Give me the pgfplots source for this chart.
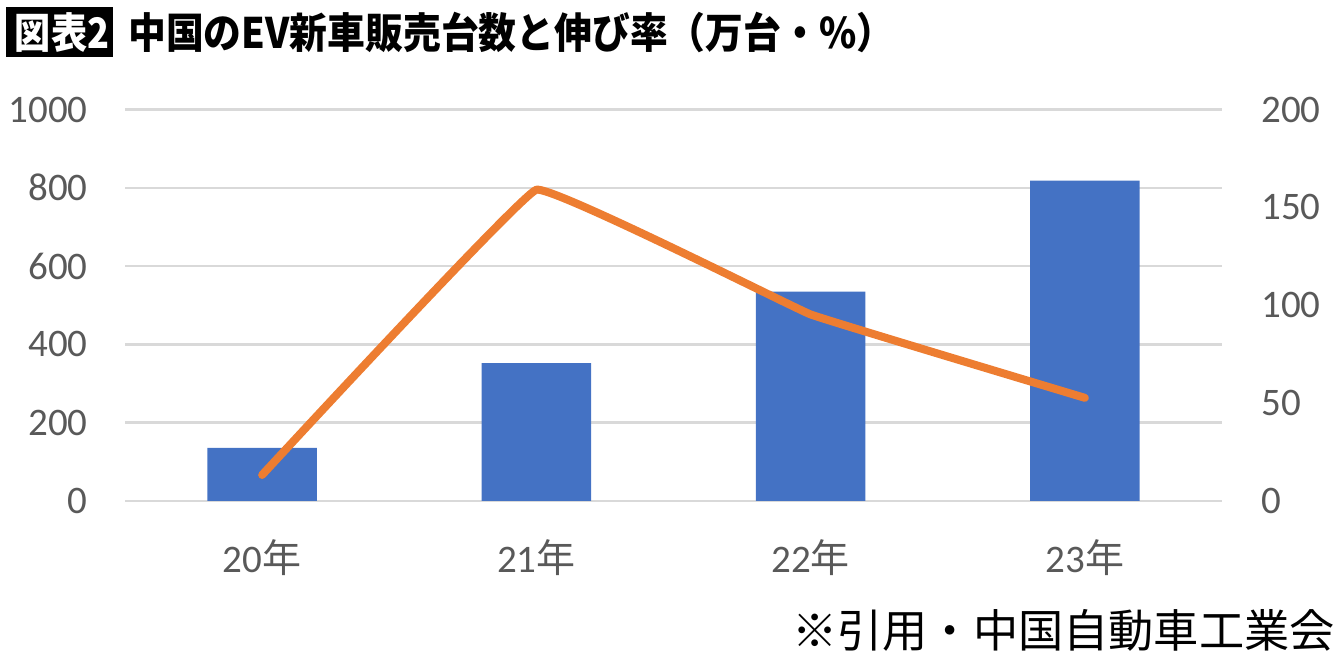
\documentclass[border=0pt]{standalone}
\usepackage{pgfplots}
\pgfplotsset{compat=1.18}
\usepackage{fontspec}
\setmainfont{Carlito}
\newfontfamily\cjk{Noto Sans CJK JP}
\definecolor{barblue}{HTML}{4472C4}
\definecolor{lineorange}{HTML}{ED7D31}
\definecolor{gridgray}{HTML}{D9D9D9}
\definecolor{ticktext}{HTML}{595959}
\begin{document}
\begin{tikzpicture}
\path[use as bounding box] (0,0) rectangle (670pt,329.5pt);
% title
\fill[black] (3pt,301pt) rectangle (56.5pt,326pt);
\node[anchor=center, text=white, inner sep=0pt, xscale=0.86] at (31pt,313pt)
  {\cjk\bfseries\fontsize{21}{23}\selectfont 図表2};
\node[anchor=west, inner sep=0pt, xscale=0.9] at (64pt,313pt)
  {\cjk\bfseries\fontsize{21}{23}\selectfont 中国のEV新車販売台数と伸び率（万台・\%）};
\node[anchor=east, inner sep=0pt] at (667.5pt,14.5pt)
  {\cjk\fontsize{22.6}{24}\selectfont ※引用・中国自動車工業会};

\begin{axis}[
  at={(62.5pt,79pt)}, anchor=south west,
  scale only axis, width=548.5pt, height=195.75pt,
  xmin=-0.5, xmax=3.5, ymin=0, ymax=1000,
  ytick={0,200,...,1000},
  xtick={0,1,2,3},
  xticklabels={20{\cjk 年},21{\cjk 年},22{\cjk 年},23{\cjk 年}},
  axis line style={draw=none},
  axis x line*=bottom, axis y line*=left,
  major tick length=0pt,
  ymajorgrids, grid style={gridgray, line width=1.2pt},
  y tick label style={inner sep=0pt, anchor=east, xshift=-18.5pt, text=ticktext, font=\fontsize{19.5}{21}\selectfont},
  x tick label style={inner sep=0pt, anchor=center, yshift=-28.5pt, text=ticktext, font=\fontsize{19.5}{21}\selectfont},
  /pgf/number format/assume math mode=true,
  /pgf/number format/1000 sep={},
  clip=false,
]
\addplot[ybar, bar width=0.4, bar shift=0pt, fill=barblue, draw=none]
  coordinates {(0,135.5) (1,352) (2,535) (3,818.5)};
\end{axis}

\begin{axis}[
  at={(62.5pt,79pt)}, anchor=south west,
  scale only axis, width=548.5pt, height=195.75pt,
  xmin=-0.5, xmax=3.5, ymin=0, ymax=200,
  ytick={0,50,...,200},
  xtick=\empty,
  axis line style={draw=none},
  axis x line*=bottom, axis y line*=right,
  major tick length=0pt,
  y tick label style={inner sep=0pt, anchor=west, xshift=19.5pt, text=ticktext, font=\fontsize{19.5}{21}\selectfont},
  /pgf/number format/assume math mode=true,
  clip=false,
]
\addplot[lineorange, line width=4pt, line cap=round, line join=round, smooth, tension=0.1]
  coordinates {(0,13.3) (1,159) (2,95.3) (3,52.7)};
\end{axis}
\end{tikzpicture}
\end{document}
